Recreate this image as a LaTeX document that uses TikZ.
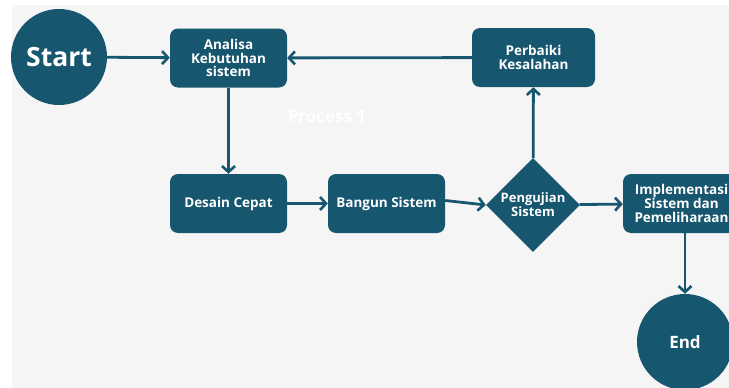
\documentclass[tikz,border=0pt]{standalone}
\usepackage{fontspec}
\setmainfont{Open Sans}
\usetikzlibrary{shapes.geometric,arrows.meta}
\definecolor{tealc}{HTML}{17566F}
\definecolor{bgc}{HTML}{F5F5F5}
\begin{document}
\begin{tikzpicture}[x=1pt,y=-1pt,
  box/.style={fill=tealc, rounded corners=8pt, minimum width=117pt, minimum height=59pt, text=white, font=\bfseries\fontsize{13.5}{13.5}\selectfont, align=center, inner sep=2pt},
  circ/.style={circle, fill=tealc, minimum size=96pt, inner sep=0pt, text=white},
  dia/.style={diamond, fill=tealc, minimum width=94pt, minimum height=94pt, inner sep=0pt, text=white, font=\bfseries\fontsize{13}{12.5}\selectfont, align=center},
  conn/.style={draw=tealc, line width=2.8pt, -{Straight Barb[length=6pt,width=13pt,line width=2.6pt]}}]
\useasboundingbox (0,0) rectangle (729,388);
\clip (0,0) rectangle (729,388);
\fill[bgc] (12,5) rectangle (729,388);
\node[circ, font=\bfseries\fontsize{26.5}{30}\selectfont] (start) at (59,57) {Start};
\node[box] (ana) at (228.5,58) {Analisa\\Kebutuhan\\sistem};
\node[box, minimum width=123pt] (perb) at (533.5,57.5) {Perbaiki\\Kesalahan};
\node[box] (des) at (228.5,203.5) {Desain Cepat};
\node[box] (bang) at (386.5,203.5) {Bangun Sistem};
\node[dia] (dia) at (533,205) {Pengujian\\Sistem};
\node[box, font=\bfseries\fontsize{13.5}{14}\selectfont] (impl) at (681.5,203.5) {Implementasi\\Sistem dan\\Pemeliharaan};
\node[circ, font=\bfseries\fontsize{17}{18}\selectfont] (end) at (685,342) {End};
\node[text=white, font=\bfseries\fontsize{17}{18}\selectfont] (proc) at (327,117) {Process 1};
\draw[conn] (start) -- (ana);
\draw[conn] (perb) -- (ana);
\draw[conn] (ana) -- (des);
\draw[conn] (des) -- (bang);
\draw[conn] (bang.east) ++(0,-3) -- (dia.west);
\draw[conn] (dia) -- (perb);
\draw[conn] (dia) -- (impl);
\draw[conn] (impl.south -| end.north) -- (end.north);
\end{tikzpicture}
\end{document}
